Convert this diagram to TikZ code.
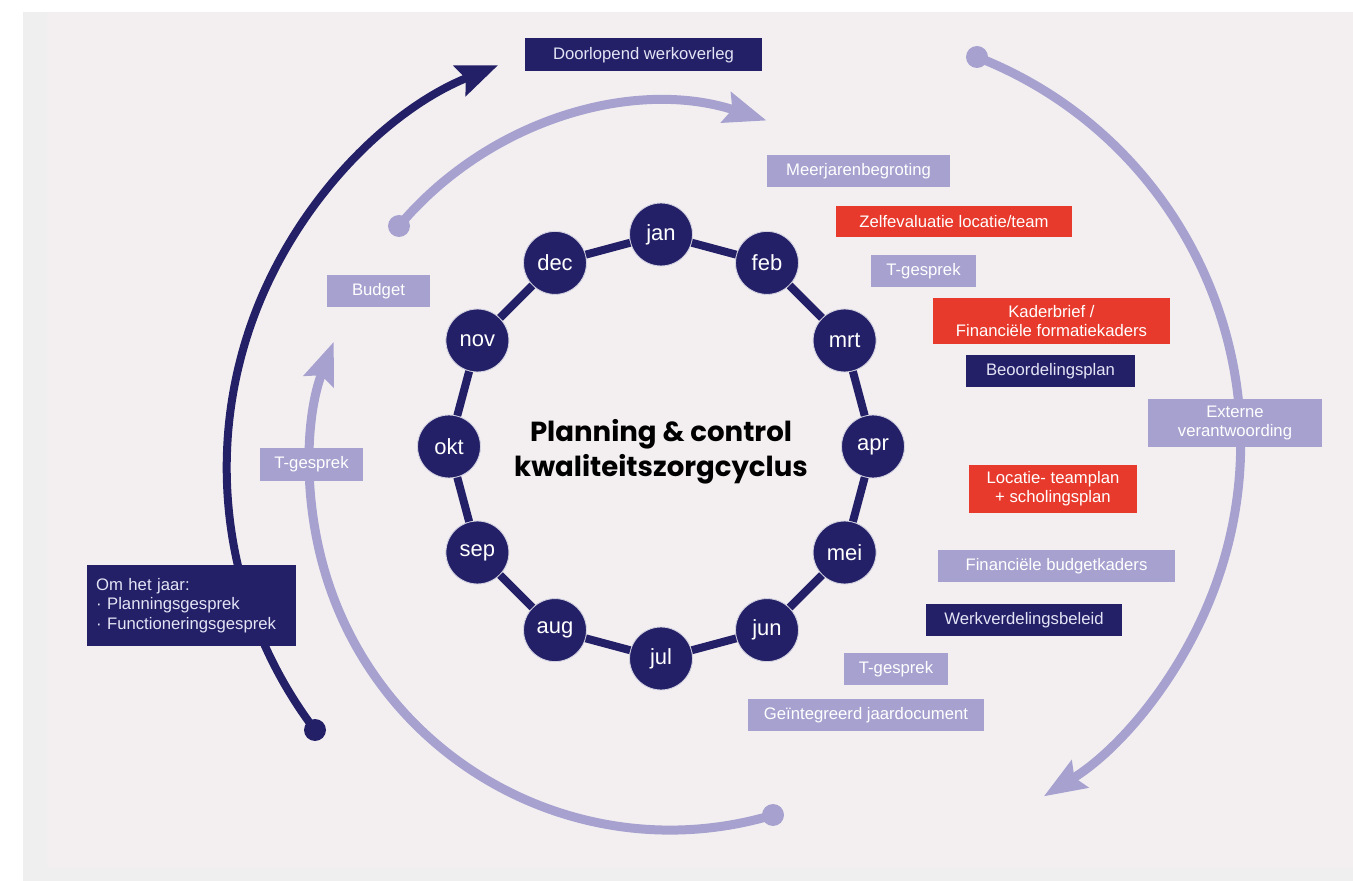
\documentclass[tikz,border=0pt]{standalone}
\usepackage{fontspec}
\setmainfont{Liberation Sans}
\newfontfamily\titlefont{Poppins}
\usepackage{tikz}
\usetikzlibrary{arrows.meta}
\usetikzlibrary{positioning}
\definecolor{navy}{RGB}{35,32,103}
\definecolor{lilac}{RGB}{166,161,207}
\definecolor{signal}{RGB}{232,58,44}
\definecolor{paletext}{RGB}{228,228,246}
\definecolor{paperout}{RGB}{239,239,239}
\definecolor{paperin}{RGB}{243,239,241}

\begin{document}
\begin{tikzpicture}[
			x=0.02cm, y=-0.02cm,
			month/.style={circle, fill=navy, draw=white!80!navy, line width=0.5pt, minimum size=1.26cm, inner sep=0pt, text=white, font=\fontsize{12.5}{14}\selectfont},
			ring/.style={navy, line width=0.16cm},
			tag/.style={inner sep=0pt, align=center, font=\fontsize{9.5}{11}\selectfont},
			lightbox/.style={tag, fill=lilac, text=white},
			darkbox/.style={tag, fill=navy, text=paletext},
			redbox/.style={tag, fill=signal, text=white},
			navyarc/.style={navy, line width=0.16cm, -{Stealth[length=0.82cm, width=0.64cm, inset=0.12cm]}},
			lilacarc/.style={lilac, line width=0.18cm, -{Stealth[length=0.84cm, width=0.62cm, inset=0.12cm]}}
		]
		\useasboundingbox (0,0) rectangle (1353,881);
		\fill[white] (0,0) rectangle (1353,881);
		\fill[paperout] (23,12) rectangle (1353,881);
		\fill[paperin] (47,12) rectangle (1353,868);

		% outer arcs
		\coordinate (navyTail) at (315,730);
		\coordinate (topTail) at (399,226);
		\coordinate (rightTail) at (977,57);
		\coordinate (bigTail) at (773,815);

		\draw[navyarc] (navyTail) arc[start angle=142.8, end angle=248, radius=434];
		\fill[navy] (navyTail) circle[radius=0.22cm];

		\draw[lilacarc] (topTail) arc[start angle=220, end angle=288, radius=342];
		\fill[lilac] (topTail) circle[radius=0.22cm];

		\draw[lilacarc] (rightTail) arc[start angle=-68.6, end angle=58.3, radius=415];
		\fill[lilac] (rightTail) circle[radius=0.22cm];

		\draw[lilacarc] (bigTail) arc[start angle=73.4, end angle=200.9, radius=360];
		\fill[lilac] (bigTail) circle[radius=0.22cm];

		% month ring
		\node[month] (jan) at (661,234.5) {jan};
		\node[month] (feb) at (767,262.9) {feb};
		\node[month] (mrt) at (844.6,340.5) {mrt};
		\node[month] (apr) at (873,446.5) {apr};
		\node[month] (mei) at (844.6,552.5) {mei};
		\node[month] (jun) at (767,630.1) {jun};
		\node[month] (jul) at (661,658.5) {jul};
		\node[month] (aug) at (555,630.1) {aug};
		\node[month] (sep) at (477.4,552.5) {sep};
		\node[month] (okt) at (449,446.5) {okt};
		\node[month] (nov) at (477.4,340.5) {nov};
		\node[month] (dec) at (555,262.9) {dec};

		\draw[ring] (jan)--(feb);
		\draw[ring] (feb)--(mrt);
		\draw[ring] (mrt)--(apr);
		\draw[ring] (apr)--(mei);
		\draw[ring] (mei)--(jun);
		\draw[ring] (jun)--(jul);
		\draw[ring] (jul)--(aug);
		\draw[ring] (aug)--(sep);
		\draw[ring] (sep)--(okt);
		\draw[ring] (okt)--(nov);
		\draw[ring] (nov)--(dec);
		\draw[ring] (dec)--(jan);

		\node[align=center, font=\titlefont\bfseries\fontsize{15.7}{20}\selectfont] (title) at (661,452) {Planning \& control\\kwaliteitszorgcyclus};

		% boxes
		\node[darkbox, minimum width=4.74cm, minimum height=0.66cm] (werkoverleg) at (643.5,55) {Doorlopend werkoverleg};
		\node[lightbox, minimum width=3.66cm, minimum height=0.64cm] (meerjaren) at (858.5,171) {Meerjarenbegroting};
		\node[redbox, minimum width=4.72cm, minimum height=0.62cm] (zelfevaluatie) at (954,221.5) {Zelfevaluatie locatie/team};
		\node[lightbox, minimum width=2.1cm, minimum height=0.64cm] (tgesprekA) at (923.5,271) {T-gesprek};
		\node[redbox, minimum width=4.74cm, minimum height=0.92cm] (kaderbrief) at (1051.5,321) {Kaderbrief /\\Financiële formatiekaders};
		\node[darkbox, minimum width=3.38cm, minimum height=0.64cm] (beoordeling) at (1050.5,371) {Beoordelingsplan};
		\node[lightbox, minimum width=3.48cm, minimum height=0.96cm] (externe) at (1235,423) {Externe\\verantwoording};
		\node[redbox, minimum width=3.36cm, minimum height=0.96cm] (locatie) at (1053,489) {Locatie- teamplan\\+ scholingsplan};
		\node[lightbox, minimum width=4.74cm, minimum height=0.64cm] (budgetkaders) at (1056.5,566) {Financiële budgetkaders};
		\node[darkbox, minimum width=3.92cm, minimum height=0.64cm] (werkverdeling) at (1024,620) {Werkverdelingsbeleid};
		\node[lightbox, minimum width=2.08cm, minimum height=0.64cm] (tgesprekB) at (896,669) {T-gesprek};
		\node[lightbox, minimum width=4.72cm, minimum height=0.64cm] (jaardocument) at (866,715) {Geïntegreerd jaardocument};
		\node[lightbox, minimum width=2.06cm, minimum height=0.64cm] (budget) at (378.5,291) {Budget};
		\node[lightbox, minimum width=2.06cm, minimum height=0.66cm] (tgesprekC) at (311.5,464.5) {T-gesprek};
		\node[darkbox, align=left, text width=3.82cm, inner xsep=0.18cm, minimum height=1.62cm] (omjaar) at (191.5,605.5) {Om het jaar:\\· Planningsgesprek\\· Functioneringsgesprek};
	\end{tikzpicture}
\end{document}
